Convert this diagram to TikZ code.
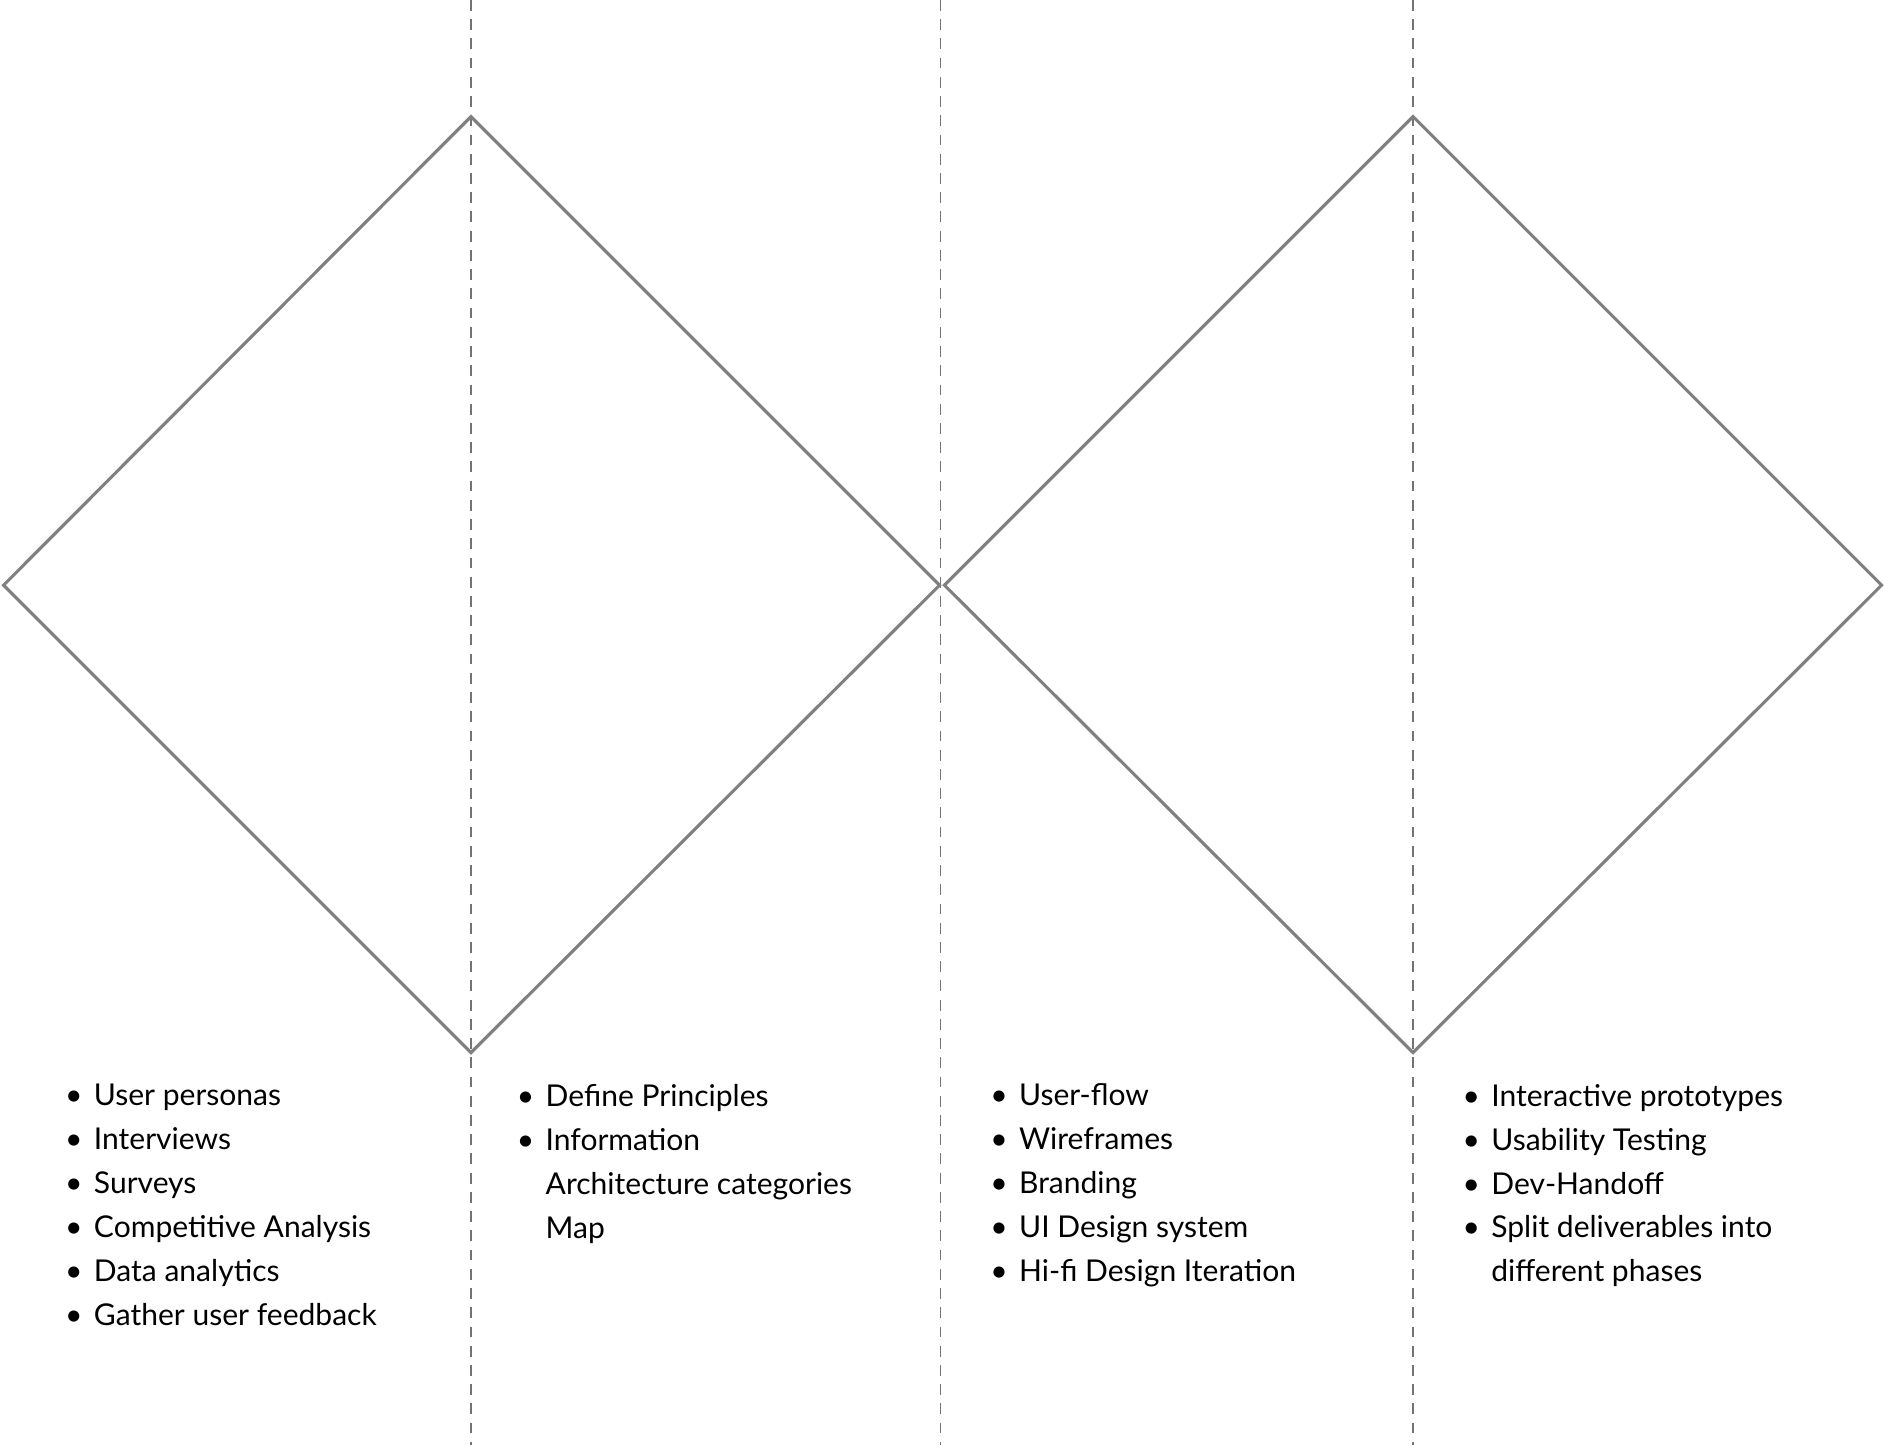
\documentclass[tikz,border=0pt]{standalone}
\usepackage{fontspec}
\setmainfont{Lato}
\begin{document}
\begin{tikzpicture}[x=1pt,y=-1pt,
  dia/.style={draw=black!50,line width=2.6pt,line join=miter},
  guide/.style={draw=black!55,line width=1pt,dash pattern=on 9pt off 7pt},
  lst/.style={anchor=north west,align=left,inner sep=0pt,font=\fontsize{25}{36.6}\selectfont}]
\newcommand{\bi}[1]{\makebox[24pt][l]{\textbullet}#1}
\newcommand{\ci}[1]{\hspace*{24pt}#1}
\useasboundingbox (0,0) rectangle (1568,1203);
\foreach \x/\n in {392/g1,783/g2,1176/g3}{
  \coordinate (\n t) at (\x,0); \coordinate (\n b) at (\x,1203);
  \draw[guide] (\n t) -- (\n b);}
\coordinate (aL) at (3,487); \coordinate (aT) at (392,97); \coordinate (aR) at (782,487); \coordinate (aB) at (392,876);
\coordinate (bL) at (786,487); \coordinate (bT) at (1176,97); \coordinate (bR) at (1566,487); \coordinate (bB) at (1176,876);
\draw[dia] (aL) -- (aT) -- (aR) -- (aB) -- cycle;
\draw[dia] (bL) -- (bT) -- (bR) -- (bB) -- cycle;
\node[lst] (l1) at (54,902) {\bi{User personas}\\\bi{Interviews}\\\bi{Surveys}\\\bi{Competitive Analysis}\\\bi{Data analytics}\\\bi{Gather user feedback}};
\node[lst] (l2) at (430,902) {\bi{Define Principles}\\\bi{Information}\\\ci{Architecture categories}\\\ci{Map}};
\node[lst] (l3) at (824,902) {\bi{User-flow}\\\bi{Wireframes}\\\bi{Branding}\\\bi{UI Design system}\\\bi{Hi-fi Design Iteration}};
\node[lst] (l4) at (1217,902) {\bi{Interactive prototypes}\\\bi{Usability Testing}\\\bi{Dev-Handoff}\\\bi{Split deliverables into}\\\ci{different phases}};
\end{tikzpicture}
\end{document}
